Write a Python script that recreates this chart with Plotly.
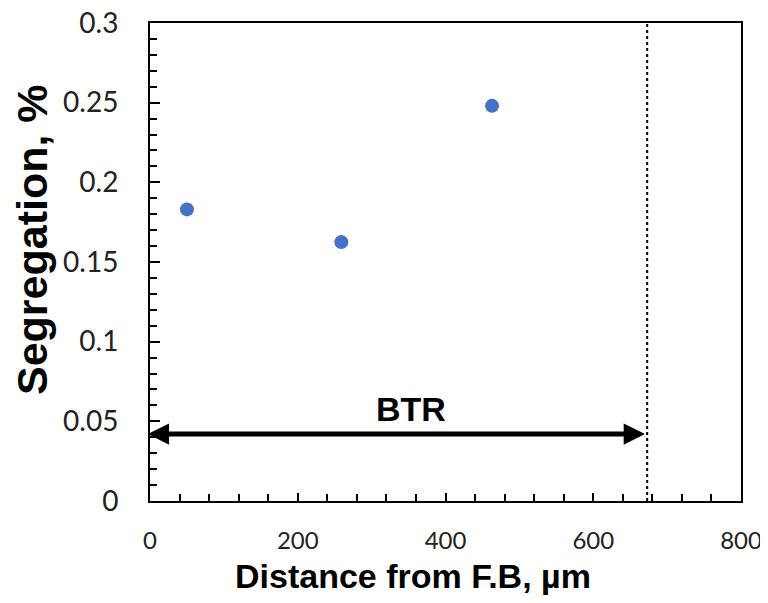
import plotly.graph_objects as go

distance = [50, 259, 463]
segregation = [0.183, 0.1625, 0.248]
btr_limit = 673
btr_level = 0.042
btr_label = "BTR"
x_ticks = [0, 200, 400, 600, 800]
x_ticktext = ["0", "200", "400", "600", "800"]
y_ticks = [0, 0.05, 0.1, 0.15, 0.2, 0.25, 0.3]
y_ticktext = ["0", "0.05", "0.1", "0.15", "0.2", "0.25", "0.3"]
x_title = "Distance from F.B, µm"
y_title = "Segregation, %"

fig = go.Figure()
fig.add_trace(go.Scatter(
    x=distance, y=segregation, mode="markers",
    marker=dict(color="#4472C4", size=14),
    showlegend=False,
))

# dotted vertical line marking BTR end
fig.add_shape(type="line", xref="x", yref="y", x0=btr_limit, x1=btr_limit,
              y0=0, y1=0.3, line=dict(color="black", width=2, dash="dot"))

# double-headed arrow
fig.add_annotation(x=btr_limit - 3, y=btr_level, ax=-5, ay=btr_level,
                   xref="x", yref="y", axref="x", ayref="y",
                   showarrow=True, arrowhead=2, arrowside="end+start",
                   arrowwidth=5, arrowsize=0.85, arrowcolor="black", text="")
fig.add_annotation(x=353, y=btr_level, xref="x", yref="y", text=btr_label,
                   showarrow=False, yanchor="bottom", yshift=4,
                   font=dict(family="Liberation Sans", size=34, color="black", weight="bold"))

# axis titles as annotations (offset from centre as in the reference)
fig.add_annotation(x=0.445, y=0, xref="paper", yref="paper", text=x_title,
                   showarrow=False, xanchor="center", yanchor="middle", yshift=-75,
                   font=dict(family="Liberation Sans", size=34, color="black", weight="bold"))
fig.add_annotation(x=0, y=0.546, xref="paper", yref="paper", text=y_title,
                   showarrow=False, xanchor="center", yanchor="middle", xshift=-118,
                   textangle=-90,
                   font=dict(family="Liberation Sans", size=43, color="black", weight="bold"))

fig.update_xaxes(
    range=[0, 800], tickmode="array", tickvals=x_ticks, ticktext=x_ticktext,
    showline=True, linecolor="black", linewidth=2, mirror=True,
    ticks="inside", ticklen=8, tickwidth=2, tickcolor="black",
    minor=dict(dtick=40, tick0=0, ticks="inside", ticklen=7, tickwidth=2, tickcolor="black", showgrid=False),
    showgrid=False, zeroline=False, ticklabeloverflow="allow",
    tickfont=dict(family="Lato", size=24, color="#222222"), ticklabelstandoff=17,
)
fig.update_yaxes(
    range=[0, 0.3], tickmode="array", tickvals=y_ticks, ticktext=y_ticktext,
    showline=True, linecolor="black", linewidth=2, mirror=True,
    ticks="inside", ticklen=10, tickwidth=2, tickcolor="black",
    minor=dict(dtick=0.01, tick0=0, ticks="inside", ticklen=7, tickwidth=2, tickcolor="black", showgrid=False),
    showgrid=False, zeroline=False, ticklabeloverflow="allow",
    tickfont=dict(family="Lato", size=28, color="#222222"), ticklabelstandoff=24,
)

fig.update_layout(
    width=760, height=595,
    margin=dict(l=142, r=27, t=15, b=102, autoexpand=False),
    plot_bgcolor="white", paper_bgcolor="white",
)

fig.write_html("out.html")
